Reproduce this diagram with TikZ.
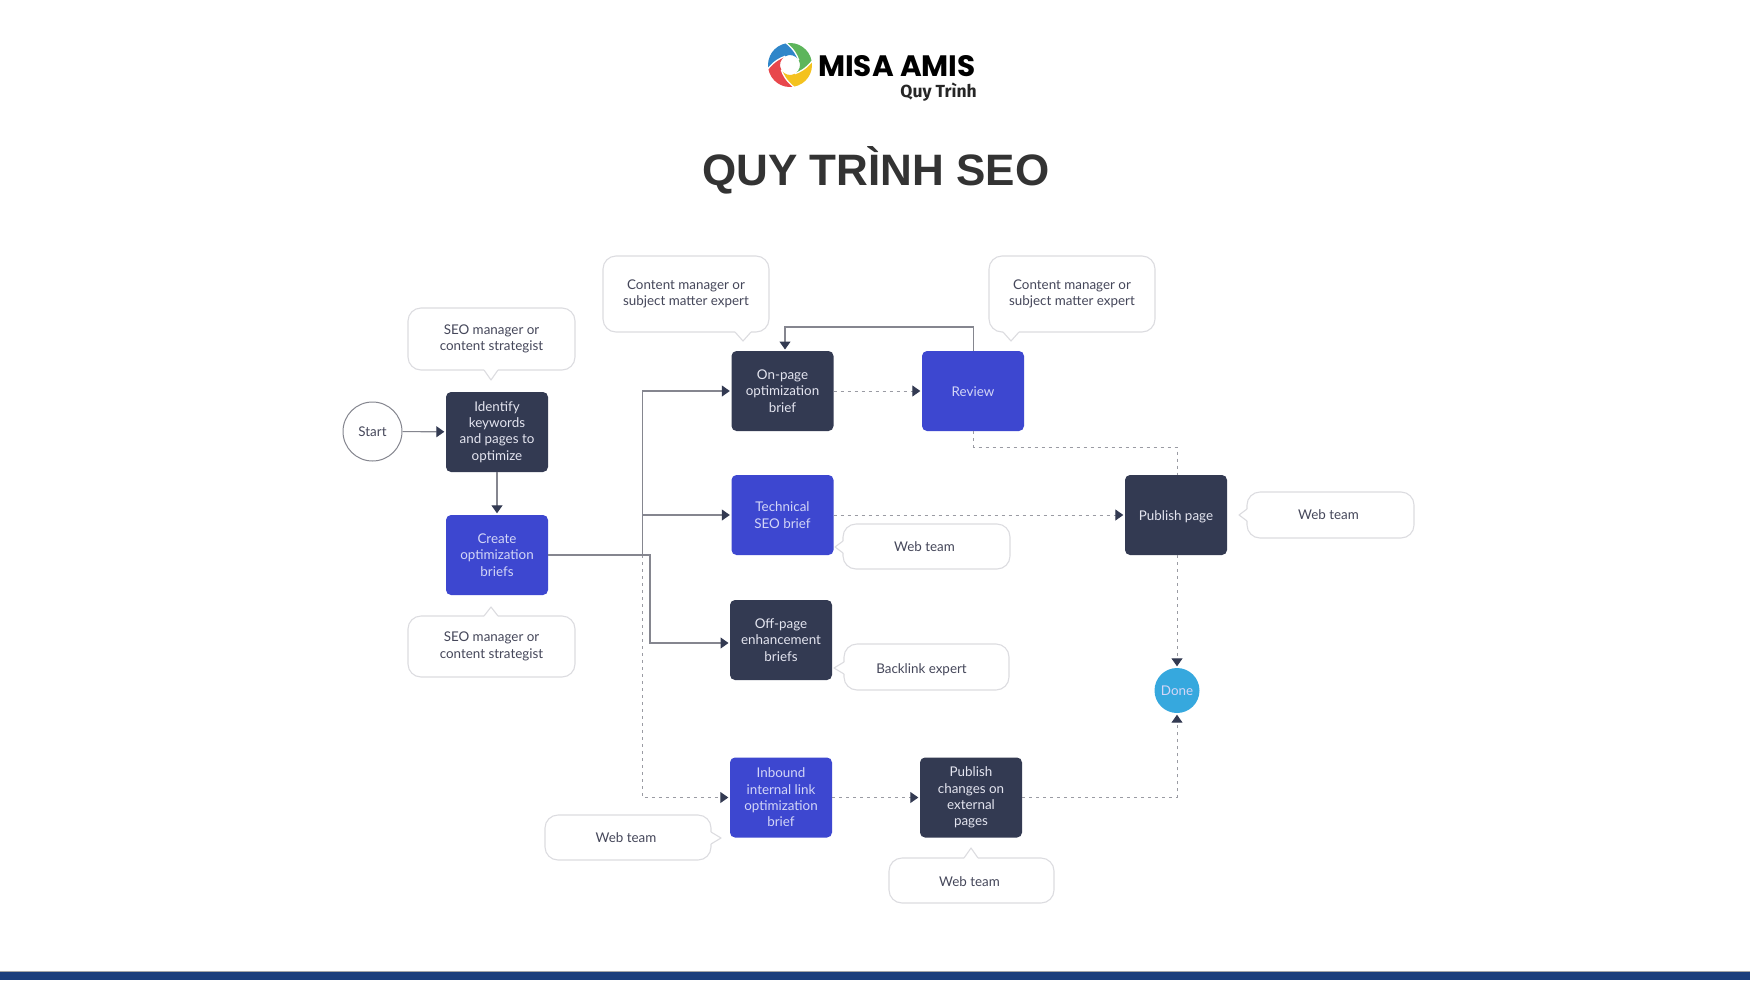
\documentclass[tikz,border=0pt]{standalone}
\usepackage{fontspec}
\setmainfont{Lato}
\newfontfamily\titlefont{Liberation Sans}
\newfontfamily\logofont{Poppins}
\newfontfamily\logosub{Fira Sans}
\usetikzlibrary{arrows.meta,calc}
\definecolor{darkbox}{HTML}{333A52}
\definecolor{bluebox}{HTML}{3D47D0}
\definecolor{donec}{HTML}{36A8DE}
\definecolor{lav}{HTML}{D3D6F7}
\definecolor{lt}{HTML}{E4E5F0}
\definecolor{txt}{HTML}{45475A}
\definecolor{wire}{HTML}{85868F}
\definecolor{dashc}{HTML}{9A9BA3}
\definecolor{edgec}{HTML}{DCDCE0}
\definecolor{band}{HTML}{1C3F7C}
\tikzset{
 x=1pt,y=-1pt,
 lbl/.style={font=\fontsize{13.4}{16.3}\selectfont,align=center,text=txt},
 flow/.style={minimum width=102pt,minimum height=80pt,inner sep=0pt,rounded corners=5pt,align=center,font=\fontsize{13.4}{16.3}\selectfont,execute at begin node={\rule{0pt}{12.5pt}}},
 darkb/.style={flow,fill=darkbox,text=lt},
 blueb/.style={flow,fill=bluebox,text=lav},
 callout/.style={lbl,draw=edgec,line width=1.1pt,fill=white,rounded corners=13pt,inner sep=0pt},
 tipline/.style={draw=edgec,line width=1.1pt,line join=round},
 solidw/.style={draw=wire,line width=1.1pt},
 dashw/.style={draw=dashc,line width=1pt,dash pattern=on 3pt off 4pt},
 tipped/.style={-{Triangle[length=8pt,width=11pt,color=darkbox]},shorten >=1.5pt},
}
% name, x1, y1, x2, y2, text
\newcommand\callbox[6]{\node[callout,minimum width=#4pt-#2pt,minimum height=#5pt-#3pt] (#1) at ({(#2+#4)/2},{(#3+#5)/2}) {#6};}
% base a, base b, tip
\newcommand\calltip[6]{\draw[white,line width=2pt] (#1,#2) -- (#3,#4);\draw[tipline] (#1,#2) -- (#5,#6) -- (#3,#4);}
\begin{document}
\begin{tikzpicture}
\useasboundingbox (0,0) rectangle (1750,980);
\fill[white] (0,0) rectangle (1750,980);
\fill[band] (0,971) rectangle (1750,980);
\draw[gray!70,line width=.6pt] (0,971) -- (1750,971);
% logo
\begin{scope}[shift={(790,65)}]
\foreach \p/\c in {170/2F86C9,260/5DB55B,350/F4C21F,80/E8474C}{
 \definecolor{pet}{HTML}{\c}
 \fill[pet] (\p:22) arc[start angle=\p,end angle=\p+90,radius=22]
   .. controls (\p+115:16) and (\p+135:12) .. (\p+160:10)
   arc[start angle=\p+160,end angle=\p+70,radius=10]
   .. controls (\p+45:12) and (\p+25:16) .. cycle;
}
\foreach \p in {170,260,350,80}{
 \draw[white,line width=1.3pt] (\p:22.5) .. controls (\p+25:16) and (\p+45:12) .. (\p+70:10);
}
\end{scope}
\node[font=\logofont\bfseries\fontsize{29.5}{29.5}\selectfont,text=black,inner sep=0pt,anchor=base west] (logoa) at (818,76) {MISA AMIS};
\node[font=\logosub\bfseries\fontsize{17.5}{18}\selectfont,text=black!85,inner sep=0pt,anchor=base east] (logob) at (977,97) {Quy Trình};
\node[font=\titlefont\bfseries\fontsize{44}{44}\selectfont,text=black!80,inner sep=0pt] (title) at (876,170) {QUY TRÌNH SEO};
% flow nodes
\node[circle,draw=wire,line width=1pt,minimum size=59pt,inner sep=0pt,lbl] (start) at (372.5,431.5) {Start};
\node[darkb] (identify) at (497,432) {Identify\\keywords\\and pages to\\optimize};
\node[blueb] (create) at (497,555) {Create\\optimization\\briefs};
\node[darkb] (onpage) at (782.5,391) {On-page\\optimization\\brief};
\node[blueb] (review) at (973,391) {\raisebox{1pt}{Review}};
\node[blueb] (tech) at (782.5,515) {Technical\\SEO brief};
\node[darkb] (publish) at (1176,515) {\raisebox{-1.5pt}{Publish page}};
\node[darkb] (offpage) at (781,640) {Off-page\\enhancement\\briefs};
\node[blueb] (inbound) at (781,797.5) {Inbound\\internal link\\optimization\\brief};
\node[darkb] (changes) at (971,797.5) {Publish\\changes on\\external\\pages};
\node[circle,fill=donec,minimum size=45pt,inner sep=0pt,text=lav,font=\fontsize{13.4}{16}\selectfont] (done) at (1177,690.5) {Done};
% callouts
\callbox{c1}{408}{308}{575}{370}{SEO manager or\\content strategist}
\calltip{484}{370}{498}{370}{491}{380}
\callbox{c2}{408}{616}{575}{677}{SEO manager or\\content strategist}
\calltip{484}{616}{498}{616}{491}{607}
\callbox{c3}{603}{256}{769}{332}{Content manager or\\subject matter expert}
\calltip{735}{332}{751}{332}{743}{341}
\callbox{c4}{989}{256}{1155}{332}{Content manager or\\subject matter expert}
\calltip{1003}{332}{1019}{332}{1011}{341}
\callbox{c5}{843}{524}{1010}{569}{Web team\hspace*{4pt}}
\calltip{843}{541}{843}{553}{835}{547}
\callbox{c6}{1247}{492}{1414}{538}{Web team\hspace*{4pt}}
\calltip{1247}{509}{1247}{521}{1239}{515}
\callbox{c7}{844}{644}{1009}{690}{\rule{0pt}{16pt}Backlink expert\hspace*{10pt}}
\calltip{844}{662}{844}{674}{834}{668}
\callbox{c8}{545}{815}{711}{860}{Web team\hspace*{4pt}}
\calltip{711}{832}{711}{844}{721}{838}
\callbox{c9}{889}{858}{1054}{903}{\rule{0pt}{13pt}Web team\hspace*{4pt}}
\calltip{964}{858}{978}{858}{971}{848}
% connectors
\coordinate (busa) at (642.3,555);
\coordinate (busb) at (650,555);
\coordinate (offin) at (730,643);
\coordinate (ontop) at (785,351);
\coordinate (revtop) at (973.5,351);
\coordinate (loop) at (880,327);
\coordinate (revbot) at (973.5,431);
\coordinate (revturn) at (1177,447);
\coordinate (pubtop) at (1177,475);
\coordinate (pubbot) at (1177,555);
\draw[dashw,tipped] (busa) |- (inbound.west);
\draw[dashw] (revbot) |- (revturn) -- (pubtop);
\draw[dashw,tipped] (onpage) -- (review);
\draw[dashw,tipped] (tech) -- (publish);
\draw[dashw,tipped] (pubbot) -- (done);
\draw[dashw,tipped] (inbound) -- (changes);
\draw[dashw,tipped] (changes.east) -| (done.south);
\draw[solidw,tipped] (start) -- (identify);
\draw[solidw,tipped] (identify) -- (create);
\draw[solidw,tipped] (create.east) -- (busb) |- (offin);
\draw[solidw,tipped] (busa) |- (onpage.west);
\draw[solidw,tipped] (busa) |- (tech.west);
\draw[solidw,tipped] (revtop) |- (loop) -| (ontop);
\end{tikzpicture}
\end{document}
